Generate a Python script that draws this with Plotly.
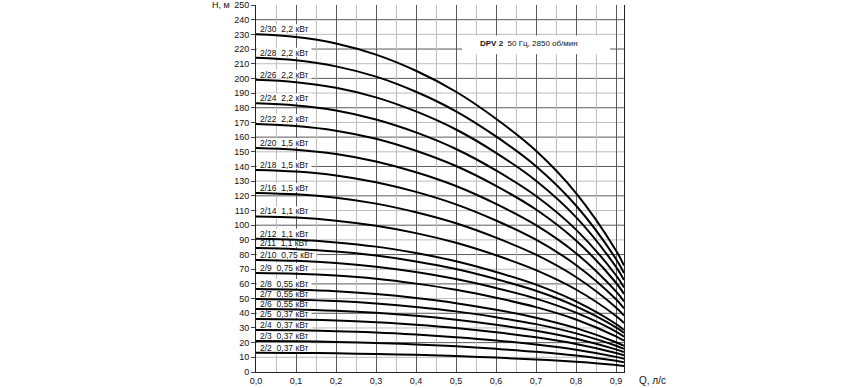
import plotly.graph_objects as go

# Flow rate points (l/s)
q = [0, 0.1, 0.2, 0.3, 0.4, 0.5, 0.6, 0.7, 0.8, 0.9, 0.92]

stages = [30, 28, 26, 24, 22, 20, 18, 16, 14, 12, 11, 10, 9, 8, 7, 6, 5, 4, 3, 2]
power = ["2,2", "2,2", "2,2", "2,2", "2,2", "1,5", "1,5", "1,5", "1,1", "1,1",
         "1,1", "0,75", "0,75", "0,55", "0,55", "0,55", "0,37", "0,37", "0,37", "0,37"]

# Head (m) for each model
h_30 = [230, 228.2, 223.8, 216.2, 205.2, 190.9, 172.5, 150.7, 121.9, 82.8, 72.5]
h_28 = [214, 212.3, 208.2, 201.2, 190.9, 177.6, 160.5, 140.2, 113.4, 77.0, 67.4]
h_26 = [199, 197.4, 193.6, 187.1, 177.5, 165.2, 149.3, 130.3, 105.5, 71.6, 62.7]
h_24 = [183, 181.5, 178.1, 172.0, 163.2, 151.9, 137.3, 119.9, 97.0, 65.9, 57.6]
h_22 = [169, 167.6, 164.4, 158.9, 150.7, 140.3, 126.8, 110.7, 89.6, 60.8, 53.2]
h_20 = [152.6, 151.4, 148.5, 143.4, 136.1, 126.7, 114.5, 100.0, 80.9, 54.9, 48.1]
h_18 = [137.6, 136.5, 133.9, 129.3, 122.7, 114.2, 103.2, 90.1, 72.9, 49.5, 43.3]
h_16 = [122, 121.0, 118.7, 114.7, 108.8, 101.3, 91.5, 79.9, 64.7, 43.9, 38.4]
h_14 = [106, 105.2, 103.1, 99.6, 94.6, 88.0, 79.5, 69.4, 56.2, 38.2, 33.4]
h_12 = [90.8, 90.1, 88.3, 85.4, 81.0, 75.4, 68.1, 59.5, 48.1, 32.7, 28.6]
h_11 = [84.4, 83.7, 82.1, 79.3, 75.3, 70.1, 63.3, 55.3, 44.7, 30.4, 26.6]
h_10 = [76.3, 75.7, 74.2, 71.7, 68.1, 63.3, 57.2, 50.0, 40.4, 27.5, 24.0]
h_9 = [67.5, 67.0, 65.7, 63.5, 60.2, 56.0, 50.6, 44.2, 35.8, 24.3, 21.3]
h_8 = [56.5, 56.0, 55.0, 53.1, 50.4, 46.9, 42.4, 37.0, 29.9, 20.3, 17.8]
h_7 = [49.7, 49.3, 48.4, 46.7, 44.3, 41.3, 37.3, 32.6, 26.3, 17.9, 15.7]
h_6 = [42.9, 42.6, 41.7, 40.3, 38.3, 35.6, 32.2, 28.1, 22.7, 15.4, 13.5]
h_5 = [36.1, 35.8, 35.1, 33.9, 32.2, 30.0, 27.1, 23.6, 19.1, 13.0, 11.4]
h_4 = [28.6, 28.4, 27.8, 26.9, 25.5, 23.7, 21.5, 18.7, 15.2, 10.3, 9.0]
h_3 = [21.1, 20.9, 20.5, 19.8, 18.8, 17.5, 15.8, 13.8, 11.2, 7.6, 6.6]
h_2 = [13.1, 13.0, 12.7, 12.3, 11.7, 10.9, 9.8, 8.6, 6.9, 4.7, 4.1]

heads = [h_30, h_28, h_26, h_24, h_22, h_20, h_18, h_16, h_14, h_12, h_11,
         h_10, h_9, h_8, h_7, h_6, h_5, h_4, h_3, h_2]

x_ticks = [0, 0.1, 0.2, 0.3, 0.4, 0.5, 0.6, 0.7, 0.8, 0.9]
x_labels = ["0,0", "0,1", "0,2", "0,3", "0,4", "0,5", "0,6", "0,7", "0,8", "0,9"]
y_ticks = list(range(0, 251, 10))

FONT = "Liberation Sans, Arial, sans-serif"
DARK = "#5a5a5a"
LIGHT = "#bdbdbd"
X_MAX = 0.92
PX_PER_Q = 368 / X_MAX      # plot width in px per l/s
PX_PER_M = 367 / 250        # plot height in px per m

CHAR_W = {"/": 2.4, ",": 2.4, " ": 2.4, "\u00a0": 2.4, "к": 4.3, "В": 5.7, "т": 4.3}


def text_width(s, size=8.5):
    return sum(CHAR_W.get(c, 4.73) for c in s) * size / 8.5


fig = go.Figure()
for n, h in zip(stages, heads):
    fig.add_trace(go.Scatter(x=q, y=h, mode="lines",
                             line=dict(color="black", width=2, shape="spline", smoothing=1.0),
                             showlegend=False, hoverinfo="skip"))

shapes = []
# horizontal grid: dark at every 20 m, light at the odd tens
for v in y_ticks:
    if 0 < v < 250:
        shapes.append(dict(type="line", xref="x", yref="y", x0=0, x1=X_MAX, y0=v, y1=v,
                           line=dict(color=DARK if v % 20 == 0 else LIGHT, width=1),
                           layer="below"))

annotations = []
for n, p, h in zip(stages, power, heads):
    txt = f"2/{n}\u00a0\u00a0{p} кВт"
    w = text_width(txt) / PX_PER_Q
    x0 = 0.004
    shapes.append(dict(type="rect", xref="x", yref="y",
                       x0=0.002, x1=x0 + w + 4 / PX_PER_Q,
                       y0=h[0] + 1.0 / PX_PER_M, y1=h[0] + 10.0 / PX_PER_M,
                       fillcolor="white", line=dict(width=0), layer="between"))
    annotations.append(dict(x=x0, y=h[0] + 5.2 / PX_PER_M, xref="x", yref="y",
                            xanchor="left", yanchor="middle",
                            text=txt, showarrow=False,
                            font=dict(family=FONT, size=8.5, color="#111")))

# white box behind the title note
shapes.append(dict(type="rect", xref="x", yref="y", x0=0.515, x1=0.885, y0=216.5, y1=229.3,
                   fillcolor="white", line=dict(width=0), layer="between"))
annotations.append(dict(x=0.555, y=224.0, xref="x", yref="y", xanchor="left", yanchor="middle",
                        text="<b>DPV 2</b>\u00a0\u00a050 Гц, 2850 об/мин", showarrow=False,
                        font=dict(family=FONT, size=8, color="#111")))
annotations.append(dict(x=-0.065, y=1.0, xref="paper", yref="paper", showarrow=False,
                        text="H, м", xanchor="right", yanchor="middle",
                        font=dict(family=FONT, size=9, color="#111")))
annotations.append(dict(x=1.035, y=-0.022, xref="paper", yref="paper", showarrow=False,
                        text="Q, л/с", xanchor="left", yanchor="middle",
                        font=dict(family=FONT, size=10, color="#111")))
fig.update_layout(shapes=shapes, annotations=annotations)

fig.update_layout(
    width=868, height=388,
    margin=dict(l=256, r=244, t=5, b=16, autoexpand=False),
    plot_bgcolor="white", paper_bgcolor="white",
    font=dict(family=FONT, size=9, color="#111"),
    xaxis=dict(range=[0, X_MAX], tickvals=x_ticks, ticktext=x_labels,
               showgrid=True, gridcolor=DARK, gridwidth=1,
               minor=dict(dtick=0.05, tick0=0, showgrid=True, gridcolor=LIGHT, gridwidth=1),
               showline=True, linecolor="#222", linewidth=1, mirror=False,
               ticks="", zeroline=False, tickfont=dict(size=9), automargin=False),
    yaxis=dict(range=[0, 250], tickvals=y_ticks, showgrid=False,
               showline=True, linecolor="#222", linewidth=1, mirror=True,
               ticks="outside", ticklen=4, tickcolor="#444",
               zeroline=False, tickfont=dict(size=9), automargin=False),
)

fig.write_html("out.html")
